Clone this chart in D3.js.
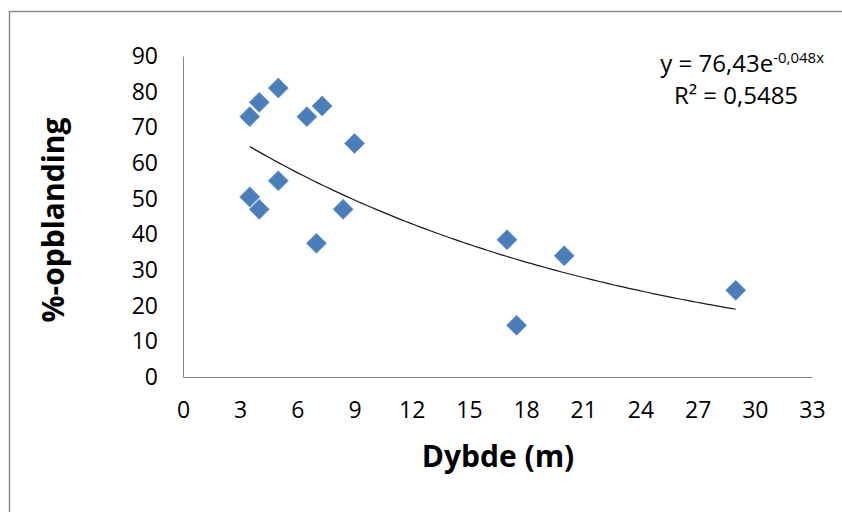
<!DOCTYPE html>
<html>
<head>
<meta charset="utf-8">
<script src="https://cdn.jsdelivr.net/npm/d3@7"></script>
<style>
  body { margin: 0; background: #fff; }
  svg { display: block; font-family: "Open Sans", sans-serif; }
  .axis path { stroke: #868686; }
  .axis text { font-size: 23px; fill: #000; font-family: "Open Sans", sans-serif; }
</style>
</head>
<body>
<svg id="chart" width="842" height="512"></svg>
<script>
// dybde (m) and %-opblanding per punkt
const depth = [3.5, 4, 5, 6.5, 7.3, 9, 5, 3.5, 4, 8.4, 7, 17, 20, 17.5, 29];
const mixing = [73, 77, 81, 73, 76, 65.5, 55, 50.5, 47, 47, 37.5, 38.5, 34, 14.5, 24.3];

const xTicks = [0, 3, 6, 9, 12, 15, 18, 21, 24, 27, 30, 33];
const yTicks = [0, 10, 20, 30, 40, 50, 60, 70, 80, 90];

// eksponentiel trendlinje fra diagrammet
const trendA = 76.43;
const trendB = -0.048;

const margin = { top: 56, left: 183 };
const innerWidth = 812 - margin.left;
const innerHeight = 377 - margin.top;

const svg = d3.select("#chart");

// ydre ramme (kun top og venstre er synlige)
svg.append("path")
  .attr("d", "M9.5,512V11.5H842")
  .attr("fill", "none")
  .attr("stroke", "#8c8c8c")
  .attr("stroke-width", 1.5);

const g = svg.append("g")
  .attr("transform", `translate(${margin.left},${margin.top})`);

const x = d3.scaleLinear().domain([0, 33]).range([0, innerWidth]);
const y = d3.scaleLinear().domain([0, 90]).range([innerHeight, 0]);

g.append("g")
  .attr("class", "axis")
  .attr("transform", `translate(0,${innerHeight})`)
  .call(d3.axisBottom(x).tickValues(xTicks).tickSize(0).tickPadding(25))
  .call(a => a.selectAll(".tick line").remove());

g.append("g")
  .attr("class", "axis")
  .call(d3.axisLeft(y).tickValues(yTicks).tickSize(0).tickPadding(25))
  .call(a => a.selectAll(".tick line").remove());

// trendlinje
const xMin = d3.min(depth), xMax = d3.max(depth);
const trendPts = d3.range(0, 101).map(i => {
  const xv = xMin + (xMax - xMin) * i / 100;
  return [xv, trendA * Math.exp(trendB * xv)];
});

g.append("path")
  .datum(trendPts)
  .attr("fill", "none")
  .attr("stroke", "#1a1a1a")
  .attr("stroke-width", 1.2)
  .attr("d", d3.line().x(d => x(d[0])).y(d => y(d[1])));

// punkter
const diamond = d3.symbol(d3.symbolSquare, 200);
g.selectAll(".dot")
  .data(depth.map((d, i) => [d, mixing[i]]))
  .join("path")
  .attr("class", "dot")
  .attr("d", diamond)
  .attr("transform", d => `translate(${x(d[0])},${y(d[1])}) rotate(45)`)
  .attr("fill", "#4a7ebb")
  .attr("stroke", "#6d97cc")
  .attr("stroke-width", 0.8);

// aksetitler
svg.append("text")
  .attr("transform", "translate(64,220) rotate(-90)")
  .attr("text-anchor", "middle")
  .style("font-size", "30px")
  .style("font-weight", "bold")
  .text("%-opblanding");

svg.append("text")
  .attr("x", 498).attr("y", 467)
  .attr("text-anchor", "middle")
  .style("font-size", "30px")
  .style("font-weight", "bold")
  .text("Dybde (m)");

// ligning
const eq = svg.append("text")
  .attr("x", 824).attr("y", 72)
  .attr("text-anchor", "end")
  .style("font-size", "24px");
eq.append("tspan").text("y = 76,43e");
eq.append("tspan").attr("dy", -9).style("font-size", "15px").text("-0,048x");

svg.append("text")
  .attr("x", 736).attr("y", 104)
  .attr("text-anchor", "middle")
  .style("font-size", "24px")
  .text("R² = 0,5485");
</script>
</body>
</html>
